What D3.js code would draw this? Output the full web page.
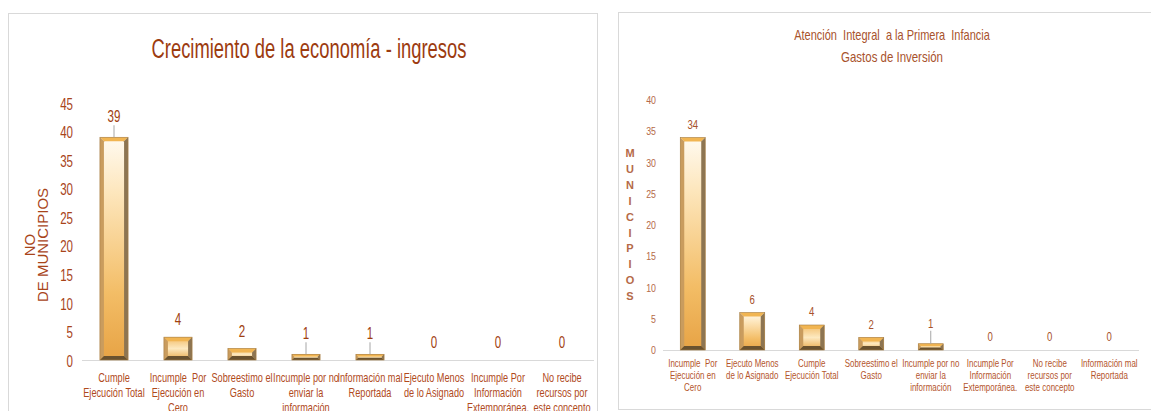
<!DOCTYPE html>
<html><head><meta charset="utf-8">
<script src="https://cdn.jsdelivr.net/npm/d3@7"></script>
<style>
body{margin:0;background:#fff;}
svg{display:block;}
text{white-space:pre;}
</style></head>
<body>
<svg id="chart" width="1151" height="411"></svg>
<script>
// ---------- DATA ----------
const leftTitle = ["Crecimiento de la economía - ingresos"];
const leftCategories = [
  ["Cumple","Ejecución Total"],
  ["Incumple  Por","Ejecución en","Cero"],
  ["Sobreestimo el","Gasto"],
  ["Incumple por no","enviar la","información"],
  ["Información mal","Reportada"],
  ["Ejecuto Menos","de lo Asignado"],
  ["Incumple Por","Información","Extemporánea."],
  ["No recibe","recursos por","este concepto"]
];
const leftValues = [39, 4, 2, 1, 1, 0, 0, 0];
const leftTicks = [0,5,10,15,20,25,30,35,40,45];
const leftAxisTitle = ["NO","DE MUNICIPIOS"];

const rightTitle = ["Atención  Integral  a la Primera  Infancia","Gastos de Inversión"];
const rightCategories = [
  ["Incumple  Por","Ejecución en","Cero"],
  ["Ejecuto Menos","de lo Asignado"],
  ["Cumple","Ejecución Total"],
  ["Sobreestimo el","Gasto"],
  ["Incumple por no","enviar la","información"],
  ["Incumple Por","Información","Extemporánea."],
  ["No recibe","recursos por","este concepto"],
  ["Información mal","Reportada"]
];
const rightValues = [34, 6, 4, 2, 1, 0, 0, 0];
const rightTicks = [0,5,10,15,20,25,30,35,40];
const rightAxisTitle = "MUNICIPIOS";

// ---------- DRAW ----------
const svg = d3.select("#chart");
const SANS = "'Liberation Sans',Arial,sans-serif";

const defs = svg.append("defs");
const g1 = defs.append("linearGradient").attr("id","face").attr("x1",0).attr("y1",0).attr("x2",0).attr("y2",1);
g1.append("stop").attr("offset","0%").attr("stop-color","#fffaf0");
g1.append("stop").attr("offset","25%").attr("stop-color","#fde6bc");
g1.append("stop").attr("offset","70%").attr("stop-color","#f3bd66");
g1.append("stop").attr("offset","100%").attr("stop-color","#e7a345");
const g2 = defs.append("linearGradient").attr("id","faceS").attr("x1",0).attr("y1",0).attr("x2",0).attr("y2",1);
g2.append("stop").attr("offset","0%").attr("stop-color","#f2bb66");
g2.append("stop").attr("offset","50%").attr("stop-color","#fde9c0");
g2.append("stop").attr("offset","100%").attr("stop-color","#e9a848");

// panel borders
svg.append("rect").attr("x",8.5).attr("y",13.5).attr("width",589).attr("height",420)
  .attr("fill","#fff").attr("stroke","#d9d9d9");
svg.append("rect").attr("x",618.5).attr("y",12.5).attr("width",560).attr("height",397)
  .attr("fill","#fff").attr("stroke","#d9d9d9");

function bevelBar(g, x0, w, yTop, yBot){
  const h = yBot - yTop;
  if (h <= 0) return;
  const b = Math.min(4, h/2.5);
  const x1 = x0 + w;
  const P = pts => pts.map(p=>p.join(",")).join(" ");
  g.append("rect").attr("x",x0).attr("y",yTop).attr("width",w).attr("height",h)
    .attr("fill", h > 30 ? "url(#face)" : "url(#faceS)");
  g.append("polygon").attr("points",P([[x0,yTop],[x1,yTop],[x1-b,yTop+b],[x0+b,yTop+b]])).attr("fill","#f1b552");
  g.append("polygon").attr("points",P([[x0,yTop],[x0+b,yTop+b],[x0+b,yBot-b],[x0,yBot]])).attr("fill","#c99c5e");
  g.append("polygon").attr("points",P([[x1,yTop],[x1,yBot],[x1-b,yBot-b],[x1-b,yTop+b]])).attr("fill","#8d7552");
  g.append("polygon").attr("points",P([[x0,yBot],[x1,yBot],[x1-b,yBot-b],[x0+b,yBot-b]])).attr("fill","#6a522f");
  g.append("rect").attr("x",x0).attr("y",yTop).attr("width",w).attr("height",h)
    .attr("fill","none").attr("stroke","#a57c42").attr("stroke-width",0.6);
}

function narrowText(parent, x, y, lines, size, color, f, lh){
  const gg = parent.append("g").attr("transform",`translate(${x},${y})`);
  const t = gg.append("text").attr("text-anchor","middle").attr("fill",color)
    .attr("font-family",SANS).attr("font-size",size).attr("transform",`scale(${f},1)`);
  lines.forEach((s,i)=>t.append("tspan").attr("x",0).attr("dy",i===0?0:lh).text(s));
  return t;
}
function fitText(parent, x, y, s, size, color, width){
  const gg = parent.append("g").attr("transform",`translate(${x},${y})`);
  const t = gg.append("text").attr("text-anchor","middle").attr("fill",color)
    .attr("font-family",SANS).attr("font-size",size).text(s);
  const w = t.node().getComputedTextLength();
  t.attr("transform",`scale(${width/w},1)`);
  return t;
}

function drawChart(cfg){
  const g = svg.append("g");
  const x = d3.scaleBand().domain(d3.range(cfg.values.length)).range(cfg.xRange).paddingInner(cfg.pad).paddingOuter(cfg.pad/2);
  const y = d3.scaleLinear().domain([0, d3.max(cfg.ticks)]).range(cfg.yRange);

  cfg.title.forEach((s,i)=>fitText(g, cfg.titleX, cfg.titleY[i], s, cfg.titleSize, cfg.titleColor, cfg.titleW[i]));

  const ax = d3.axisLeft(y).tickValues(cfg.ticks).tickSize(0).tickPadding(0);
  const axg = g.append("g").attr("transform",`translate(${cfg.tickX},0)`).call(ax);
  axg.select(".domain").remove();
  axg.selectAll("text").attr("fill",cfg.tickColor).attr("font-family",SANS).attr("font-size",cfg.tickSize)
    .attr("transform",`scale(${cfg.numF},1)`);

  g.append("line").attr("x1",cfg.xRange[0]).attr("x2",cfg.xRange[1])
    .attr("y1",y(0)+0.5).attr("y2",y(0)+0.5).attr("stroke","#d9d9d9").attr("stroke-width",1);

  const bw = x.bandwidth();
  cfg.values.forEach((v,i)=>bevelBar(g, x(i), bw, y(v), y(0)));

  cfg.values.forEach((v,i)=>{
    const cx = x(i)+bw/2;
    const lead = cfg.leader(v);
    const ly = y(v) - (lead ? cfg.leadOffset : cfg.valOffset);
    if (lead) {
      g.append("line").attr("x1",cx).attr("x2",cx).attr("y1",ly+3).attr("y2",y(v)).attr("stroke","#a6a6a6").attr("stroke-width",1);
    }
    narrowText(g, cx, ly, [String(v)], cfg.valSize, cfg.valColor, cfg.numF, 0);
  });

  const xa = d3.axisBottom(x).tickSize(0).tickFormat(()=>"");
  const xg = g.append("g").attr("transform",`translate(0,${y(0)})`).call(xa);
  xg.select(".domain").remove();
  xg.selectAll(".tick").each(function(d){
    narrowText(d3.select(this), 0, cfg.catY0, cfg.cats[d], cfg.catSize, cfg.catColor, cfg.catF, cfg.catLH);
  });
  return {x,y,g};
}

const L = drawChart({
  values:leftValues, cats:leftCategories, ticks:leftTicks, title:leftTitle,
  xRange:[82,594], yRange:[360,103], pad:0.56,
  titleX:309, titleY:[58], titleSize:28, titleW:[315], titleColor:"#9c3b10",
  tickX:73, tickSize:17, tickColor:"#a8441a", numF:0.68,
  valOffset:12, leadOffset:15, valSize:17, valColor:"#a0400f",
  leader: v => v===1 || v>30,
  catY0:22, catLH:15, catSize:13.5, catF:0.68, catColor:"#b04a1c"
});
L.g.selectAll(".tick text").attr("dy","0.36em");
const lat = L.g.append("text").attr("transform","translate(35,245) rotate(-90)")
  .attr("text-anchor","middle").attr("fill","#a8441a")
  .attr("font-family",SANS).attr("font-size",15);
leftAxisTitle.forEach((s,i)=>lat.append("tspan").attr("x",0).attr("dy",i===0?0:13).text(s));

const R = drawChart({
  values:rightValues, cats:rightCategories, ticks:rightTicks, title:rightTitle,
  xRange:[663,1139], yRange:[350,100], pad:0.58,
  titleX:892, titleY:[40,62], titleSize:14, titleW:[196,102], titleColor:"#a8522c",
  tickX:656, tickSize:11, tickColor:"#b56a48", numF:0.8,
  valOffset:9, leadOffset:16, valSize:12, valColor:"#a8522c",
  leader: v => v===1,
  catY0:17, catLH:12, catSize:10.5, catF:0.76, catColor:"#b4552c"
});
const rat = R.g.append("text").attr("text-anchor","middle").attr("fill","#b56a48")
  .attr("font-family",SANS).attr("font-weight","bold").attr("font-size",11);
rightAxisTitle.split("").forEach((ch,i)=>rat.append("tspan").attr("x",630).attr("y",157+i*15.9).text(ch));
</script>
</body></html>
